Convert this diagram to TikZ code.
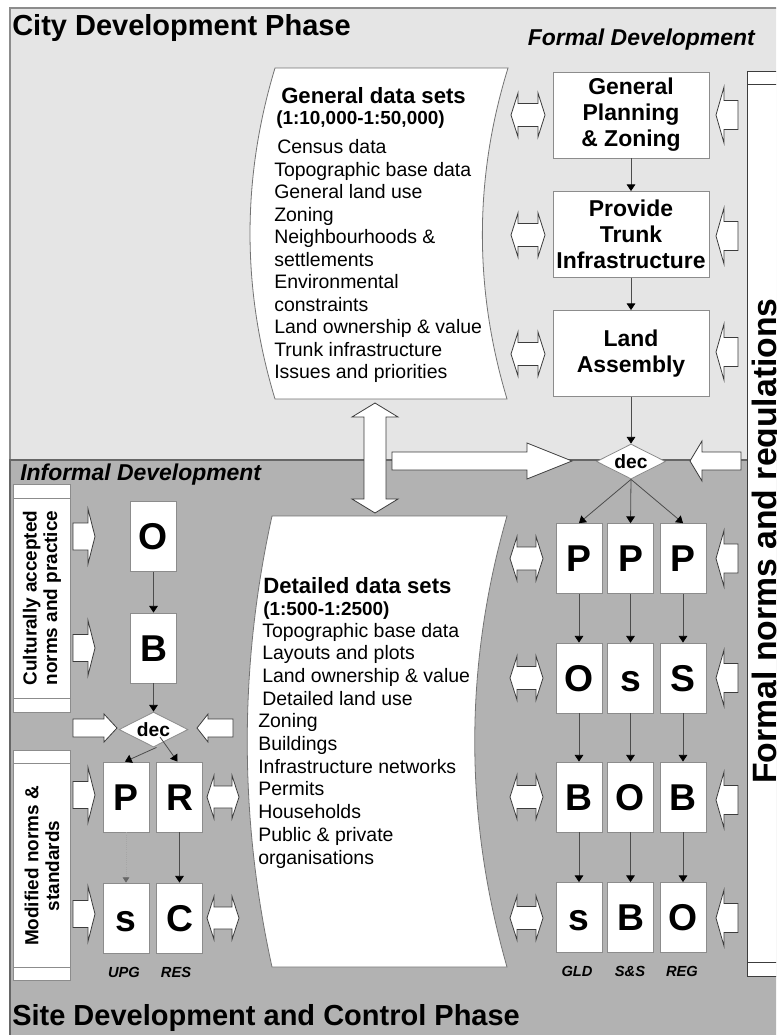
\documentclass[tikz,border=0pt]{standalone}
\usepackage{fontspec}
\setmainfont{Liberation Sans}
\usetikzlibrary{arrows.meta,shapes.geometric,calc}
\definecolor{lightbg}{HTML}{E5E5E5}
\definecolor{darkbg}{HTML}{B2B2B2}
\definecolor{boxedge}{HTML}{8C8C8C}
\definecolor{arrline}{HTML}{3C3C3C}
\newcommand{\myfs}[2]{\fontsize{#1}{#2}\selectfont}
% single block arrow: tail x, head-base x, tip x, centre y, half shaft, half head
\newcommand{\hbarrow}[6]{\draw[barrow] (#1,{#4-#5}) -- (#2,{#4-#5}) -- (#2,{#4-#6}) -- (#3,#4) -- (#2,{#4+#6}) -- (#2,{#4+#5}) -- (#1,{#4+#5}) -- cycle;}
% double block arrow: left tip, left base, right base, right tip, centre y, half shaft, half head
\newcommand{\hdbarrow}[7]{\draw[barrow] (#1,#5) -- (#2,{#5-#7}) -- (#2,{#5-#6}) -- (#3,{#5-#6}) -- (#3,{#5-#7}) -- (#4,#5) -- (#3,{#5+#7}) -- (#3,{#5+#6}) -- (#2,{#5+#6}) -- (#2,{#5+#7}) -- cycle;}
\begin{document}
\begin{tikzpicture}[x=0.75pt,y=-0.75pt,
 box/.style={draw=boxedge,fill=white,line width=0.6pt,inner sep=0pt},
 letter/.style={box,minimum width=34.5pt,minimum height=52.5pt,text height=20pt,text depth=0pt,font=\bfseries\myfs{28}{30}},
 bigbox/.style={box,minimum width=117pt,minimum height=64.5pt,align=center,font=\bfseries\myfs{17.2}{19.5}},
 decshape/.style={diamond,aspect=2,draw=boxedge,fill=white,line width=0.6pt,inner sep=0pt,minimum width=51.75pt,minimum height=26.25pt,font=\bfseries\myfs{14.4}{16}},
 conn/.style={draw=black!70,line width=0.6pt,-{Triangle[width=6.5pt,length=5pt,color=black]}},
 dotconn/.style={draw=black!35,line width=0.6pt,densely dotted,-{Triangle[width=5pt,length=4pt,color=black!60]}},
 barrow/.style={draw=arrline,fill=white,line width=0.6pt},
 sheet/.style={draw=black!55,fill=white,line width=0.6pt},
 panel/.style={draw=boxedge,fill=white,line width=0.6pt},
 head/.style={font=\bfseries\myfs{21.75}{24},inner sep=0pt,anchor=base west},
 subhead/.style={font=\bfseries\itshape\myfs{17.2}{20},inner sep=0pt},
 dtitle/.style={font=\bfseries\myfs{16.6}{19},inner sep=0pt,anchor=base west},
 dscale/.style={font=\bfseries\myfs{14.2}{16},inner sep=0pt,anchor=base west},
 item/.style={font=\myfs{14.6}{17},inner sep=0pt,anchor=base west},
 vlabel/.style={rotate=90,align=center,inner sep=0pt,font=\bfseries\myfs{14.2}{15.5}},
 tag/.style={font=\bfseries\itshape\myfs{11}{12},inner sep=0pt,anchor=base},
]
\useasboundingbox (0,0) rectangle (776,1035);
\begin{scope}
\clip (0,0) rectangle (776,1035);
\fill[white] (0,0) rectangle (776,1035);
% regions
\draw[draw=boxedge,fill=lightbg,line width=0.8pt] (10,8) rectangle (800,460);
\draw[draw=black!60,fill=darkbg,line width=0.8pt] (10,460) rectangle (800,1050);

% headings
\node[head] (hcity) at (12,35.7) {City Development Phase};
\node[head] (hsite) at (12,1025) {Site Development and Control Phase};
\node[subhead,anchor=base east] (hformal) at (755,45.7) {Formal Development};
\node[subhead,anchor=base west] (hinformal) at (20,480) {Informal Development};

% data sheets
\draw[sheet] (275,68) -- (508,68) .. controls (474,178) and (474,289) .. (507,399) -- (275,399) .. controls (241.7,289) and (241.7,178) .. (275,68) -- cycle;
\draw[sheet] (272,516) -- (507,516) .. controls (464,666) and (464,817) .. (507,967) -- (272,967) .. controls (239,817) and (239,666) .. (272,516) -- cycle;

\node[dtitle] (gtitle) at (281,103) {General data sets};
\node[dscale] (gscale) at (276,124) {(1:10,000-1:50,000)};
\node[item] (gcensus) at (277,153.5) {Census data};
\foreach \t [count=\i from 0] in {Topographic base data, General land use, Zoning, Neighbourhoods \&, settlements, Environmental, constraints, Land ownership \& value, Trunk infrastructure, Issues and priorities}
  \node[item] (g\i) at (274,{176+22.5*\i}) {\t};

\node[dtitle] (dtitle) at (263,593) {Detailed data sets};
\node[dscale] (dscale) at (263,615) {(1:500-1:2500)};
\foreach \t [count=\i from 0] in {Topographic base data, Layouts and plots, Land ownership \& value, Detailed land use}
  \node[item] (da\i) at (262,{637+22.7*\i}) {\t};
\foreach \t [count=\i from 4] in {Zoning, Buildings, Infrastructure networks, Permits, Households, Public \& private, organisations}
  \node[item] (db\i) at (258,{637+22.7*\i}) {\t};

% norms panels
\draw[panel,draw=arrline] (747,71) rectangle (800,976);
\draw[draw=arrline,line width=0.6pt] (747,84) -- (800,84) (747,962) -- (800,962);
\node[rotate=90,anchor=base,inner sep=0pt,font=\bfseries\myfs{25.3}{28}] (formalnorms) at (776,541) {Formal norms and regulations};

\draw[panel] (13,484) rectangle (70,712);
\draw[draw=boxedge,line width=0.6pt] (13,498) -- (70,498) (13,698) -- (70,698);
\node[vlabel] (culture) at (42,598) {Culturally accepted\\norms and practice};
\draw[panel] (13,750) rectangle (70,980);
\draw[draw=boxedge,line width=0.6pt] (13,763) -- (70,763) (13,967) -- (70,967);
\node[vlabel] (modified) at (42,866) {Modified norms \&\\standards};

% block arrows
\draw[barrow] (375,403) -- (398,417) -- (386,417) -- (386,499) -- (398,499) -- (375,513) -- (352,499) -- (364,499) -- (364,417) -- (352,417) -- cycle;
\hbarrow{392}{527}{572}{461}{9}{18}
\hbarrow{741}{702}{690}{461}{9}{20}
\foreach \y in {115,235,354} {\hdbarrow{511}{518}{538}{545}{\y}{11.5}{22}}
\foreach \y in {115,236,352} {\hbarrow{738}{724}{716}{\y}{14.5}{28}}
\foreach \y in {558.5,678,797,918} {\hdbarrow{510}{517}{536}{543}{\y}{11.5}{22}}
\foreach \y in {558.5,678,800,918} {\hbarrow{738}{724}{716}{\y}{14.5}{28}}
\foreach \y in {536.5,648,795,914} {\hbarrow{73}{88}{95}{\y}{13.5}{27.5}}
\hbarrow{73}{104}{117}{728}{9}{14}
\hbarrow{233}{208}{197}{728}{9}{14}
\foreach \y in {797,918} {\hdbarrow{207}{214}{232}{239}{\y}{11}{21.5}}

% formal column
\node[bigbox] (gp) at (631,115) {General\\Planning\\\& Zoning};
\node[bigbox] (pt) at (631,234.5) {Provide\\Trunk\\Infrastructure};
\node[bigbox] (la) at (631,353.5) {Land\\Assembly};
\node[decshape] (udec) at (631,461.5) {dec};

\node[letter] (r1a) at (579,558.5) {P};
\node[letter] (r1b) at (630.5,558.5) {P};
\node[letter] (r1c) at (683,558.5) {P};
\node[letter] (r2a) at (579,678) {O};
\node[letter] (r2b) at (630.5,678) {s};
\node[letter] (r2c) at (683,678) {S};
\node[letter] (r3a) at (579,797) {B};
\node[letter] (r3b) at (630.5,797) {O};
\node[letter] (r3c) at (683,797) {B};
\node[letter] (r4a) at (579,917.5) {s};
\node[letter] (r4b) at (630.5,917.5) {B};
\node[letter] (r4c) at (683,917.5) {O};

\node[tag] (tgld) at (577,976) {GLD};
\node[tag] (tss) at (630,976) {S\&S};
\node[tag] (treg) at (682,976) {REG};

% informal column
\node[letter] (lo) at (153.5,536.5) {O};
\node[letter] (lb) at (153.5,648) {B};
\node[decshape] (ldec) at (153.5,729.5) {dec};
\node[letter] (lp) at (126,797) {P};
\node[letter] (lr) at (179.5,797) {R};
\node[letter] (ls) at (126,918) {s};
\node[letter] (lc) at (179.5,918) {C};
\node[tag] (tupg) at (124,977) {UPG};
\node[tag] (tres) at (176,977) {RES};

% connectors
\draw[conn] (gp) -- (pt);
\draw[conn] (pt) -- (la);
\draw[conn] (la) -- (udec);
\draw[conn] (udec.south) -- (r1a.north);
\draw[conn] (udec.south) -- (r1b.north);
\draw[conn] (udec.south) -- (r1c.north);
\draw[conn] (r1a) -- (r2a);
\draw[conn] (r1b) -- (r2b);
\draw[conn] (r1c) -- (r2c);
\draw[conn] (r2a) -- (r3a);
\draw[conn] (r2b) -- (r3b);
\draw[conn] (r2c) -- (r3c);
\draw[conn] (r3a) -- (r4a);
\draw[conn] (r3b) -- (r4b);
\draw[conn] (r3c) -- (r4c);
\draw[conn] (lo) -- (lb);
\draw[conn] (lb) -- (ldec);
\draw[conn] ($(ldec.south)+(3,0)$) -- ($(lp.north)+(-1,0)$);
\draw[conn] ($(ldec.center)+(6.5,7.5)$) -- ($(lr.north)+(-2,0)$);
\draw[dotconn] (lp) -- (ls);
\draw[conn] (lr) -- (lc);
\end{scope}
\end{tikzpicture}
\end{document}
